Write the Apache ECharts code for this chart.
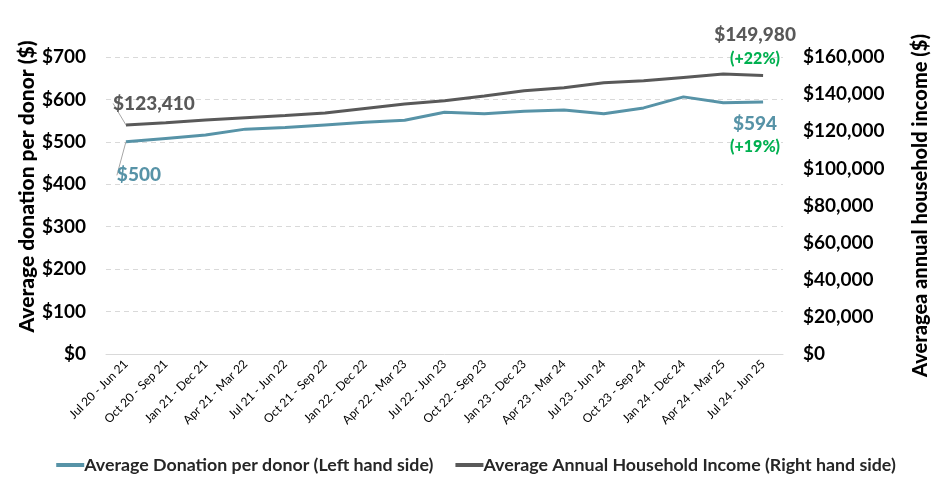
<!DOCTYPE html>
<html>
<head>
<meta charset="utf-8">
<script src="https://cdn.jsdelivr.net/npm/echarts@6/dist/echarts.min.js"></script>
<style>html,body{margin:0;padding:0;background:#fff}#c{width:952px;height:490px}</style>
</head>
<body>
<div id="c"></div>
<script>
const categories = ["Jul 20 - Jun 21","Oct 20 - Sep 21","Jan 21 - Dec 21","Apr 21 - Mar 22","Jul 21 - Jun 22","Oct 21 - Sep 22","Jan 22 - Dec 22","Apr 22 - Mar 23","Jul 22 - Jun 23","Oct 22 - Sep 23","Jan 23 - Dec 23","Apr 23 - Mar 24","Jul 23 - Jun 24","Oct 23 - Sep 24","Jan 24 - Dec 24","Apr 24 - Mar 25","Jul 24 - Jun 25"];
const donation = [500,508,516,530,534,540,546,551,570,566,572,575,566,580,606,592,594];
const income = [123410,124600,126000,127300,128500,129800,132300,134700,136400,139000,141800,143400,146100,147200,149000,150800,149980];
const leftTicks = {min:0, max:700, interval:100};
const rightTicks = {min:0, max:160000, interval:20000};
const donationName = "Average Donation per donor (Left hand side)";
const incomeName = "Average Annual Household Income (Right hand side)";
const donationPct = "(+19%)";
const incomePct = "(+22%)";

const FONT = 'Lato';
const BLUE = '#5793a7';
const GRAY = '#595959';
const GREEN = '#00b050';
const fmtMoney = v => '$' + v.toLocaleString('en-US');

const last = categories.length - 1;
function donationData() {
  return donation.map((v, i) => {
    if (i === 0) return {value: v, label: {show: true, position: 'bottom', distance: 18, formatter: () => fmtMoney(v), color: BLUE, fontSize: 19, fontWeight: 900, fontFamily: FONT}, labelLine: {show: true, lineStyle: {color: '#a6a6a6', width: 1}}};
    if (i === last) return {value: v, label: {show: true, position: 'bottom', distance: 10, formatter: () => '{a|' + fmtMoney(v) + '}\n{b|' + donationPct + '}', rich: {a: {color: BLUE, fontSize: 19, fontWeight: 900, fontFamily: FONT, lineHeight: 24}, b: {color: GREEN, fontSize: 16, fontWeight: 900, fontFamily: FONT, lineHeight: 22}}}};
    return v;
  });
}
function incomeData() {
  return income.map((v, i) => {
    if (i === 0) return {value: v, label: {show: true, position: 'top', distance: 12, formatter: () => fmtMoney(v), color: GRAY, fontSize: 19, fontWeight: 900, fontFamily: FONT}, labelLine: {show: true, lineStyle: {color: '#a6a6a6', width: 1}}};
    if (i === last) return {value: v, label: {show: true, position: 'top', distance: 6, formatter: () => '{a|' + fmtMoney(v) + '}\n{b|' + incomePct + '}', rich: {a: {color: GRAY, fontSize: 19, fontWeight: 900, fontFamily: FONT, lineHeight: 25}, b: {color: GREEN, fontSize: 16, fontWeight: 900, fontFamily: FONT, lineHeight: 22}}}};
    return v;
  });
}

const chart = echarts.init(document.getElementById('c'));
chart.setOption({
  animation: false,
  textStyle: {fontFamily: FONT},
  grid: {left: 106, right: 169, top: 57, bottom: 136},
  legend: {
    bottom: 11, left: 'center', itemGap: 22, itemWidth: 28, itemHeight: 4, icon: 'rect',
    textStyle: {fontSize: 17.8, fontWeight: 'bold', color: '#262626', fontFamily: FONT, padding: [0,0,0,-5]},
    data: [donationName, incomeName]
  },
  xAxis: {
    type: 'category', data: categories, boundaryGap: true,
    axisLine: {lineStyle: {color: '#d9d9d9', width: 1}},
    axisTick: {show: false},
    axisLabel: {rotate: 45, interval: 0, fontSize: 12, color: '#000', margin: 8, fontFamily: FONT}
  },
  yAxis: [
    {
      type: 'value', position: 'left', min: leftTicks.min, max: leftTicks.max, interval: leftTicks.interval,
      name: 'Average donation per donor ($)', nameLocation: 'middle', nameRotate: 90, nameGap: 68, nameMoveOverlap: false,
      nameTextStyle: {fontSize: 21, fontWeight: 900, color: '#000', fontFamily: FONT, padding: [0,0,0,38]},
      axisLabel: {formatter: v => fmtMoney(v), fontSize: 19, fontWeight: 'bold', color: '#000', margin: 20, fontFamily: FONT},
      axisLine: {show: false}, axisTick: {show: false},
      splitLine: {lineStyle: {color: '#d9d9d9', type: [5, 4], width: 1}}
    },
    {
      type: 'value', position: 'right', min: rightTicks.min, max: rightTicks.max, interval: rightTicks.interval,
      name: 'Averagea annual household income ($)', nameLocation: 'middle', nameRotate: 90, nameGap: 128, nameMoveOverlap: false,
      nameTextStyle: {fontSize: 20, fontWeight: 900, color: '#000', fontFamily: FONT},
      axisLabel: {formatter: v => fmtMoney(v), fontSize: 19, fontWeight: 'bold', color: '#000', margin: 20, fontFamily: FONT},
      axisLine: {show: false}, axisTick: {show: false}, splitLine: {show: false}
    }
  ],
  series: [
    {
      name: donationName, type: 'line', yAxisIndex: 0, data: donationData(),
      symbol: 'circle', symbolSize: 0, showSymbol: true, z: 3,
      lineStyle: {color: BLUE, width: 3}, itemStyle: {color: BLUE},
      labelLayout: p => p.dataIndex === 0 ? {dx: 13, dy: 6} : (p.dataIndex === last ? {dx: -8} : {})
    },
    {
      name: incomeName, type: 'line', yAxisIndex: 1, data: incomeData(),
      symbol: 'circle', symbolSize: 0, showSymbol: true, z: 2,
      lineStyle: {color: GRAY, width: 3}, itemStyle: {color: GRAY},
      labelLayout: p => p.dataIndex === 0 ? {dx: 28, dy: 0} : (p.dataIndex === last ? {dx: -8} : {})
    }
  ]
});
</script>
</body>
</html>
